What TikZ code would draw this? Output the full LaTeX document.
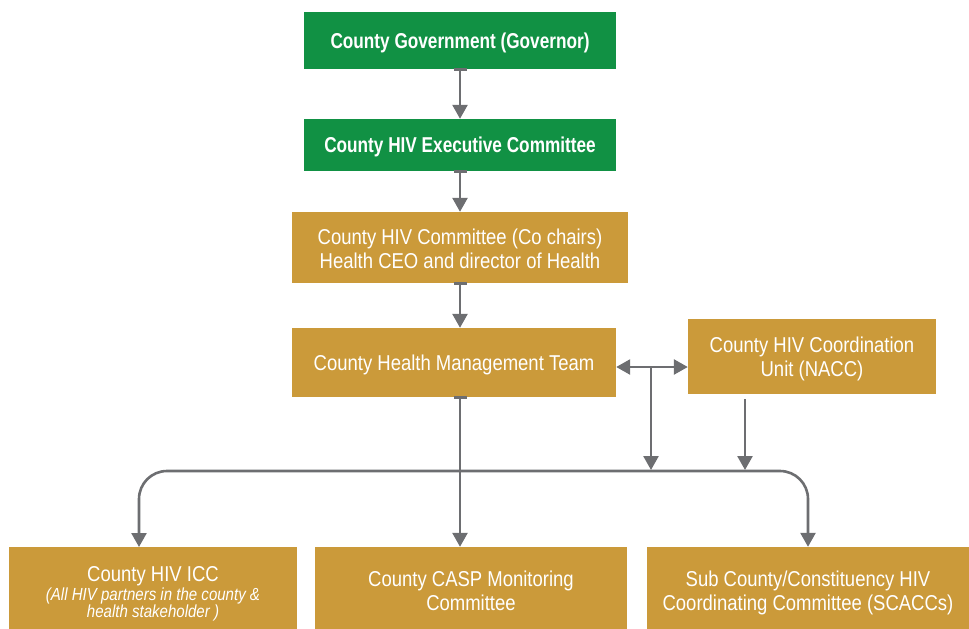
\documentclass[tikz,border=0pt]{standalone}
\usepackage{fontspec}
\setmainfont{Liberation Sans}[FakeStretch=0.86, BoldFeatures={FakeStretch=0.8}]
\usepackage{xcolor}
\usepackage{tikz}
\usetikzlibrary{positioning, arrows.meta, calc}
\definecolor{govgreen}{RGB}{17,145,68}
\definecolor{hivgold}{RGB}{203,154,58}
\definecolor{linegray}{RGB}{109,110,113}
% invisible strut that pushes a box's text down a little
\newcommand{\boxstrut}[1]{\rule{0pt}{#1pt}}

\begin{document}
\begin{tikzpicture}[x=1pt, y=-1pt,
		box/.style={fill=#1, text=white, align=center, inner sep=0pt, font=\fontsize{21.5}{24}\selectfont},
		arr/.style={-{Triangle[length=14pt, width=15pt]}, line width=2.6pt, draw=linegray},
		teearr/.style={{Bar[width=13pt, line width=3pt]}-{Triangle[length=14pt, width=15pt]}, line width=2.6pt, draw=linegray, shorten <=-1.5pt},
		dblarr/.style={{Triangle[length=14pt, width=15pt]}-{Triangle[length=14pt, width=15pt]}, line width=2.6pt, draw=linegray}]
		\useasboundingbox (0,0) rectangle (969,629);
		
		% top of the chain
		\node[box=govgreen, minimum width=312pt, minimum height=57pt, font=\fontsize{21.5}{24}\selectfont\bfseries] (gov) at (460,40.5) {\boxstrut{20}County Government (Governor)};
		\node[box=govgreen, minimum width=312pt, minimum height=52pt, font=\fontsize{21.5}{24}\selectfont\bfseries] (exec) at (460,145) {\boxstrut{20}County HIV Executive Committee};
		\node[box=hivgold, minimum width=336pt, minimum height=71pt] (cochair) at (460,247.5) {\boxstrut{19}County HIV Committee (Co chairs)\\Health CEO and director of Health};
		\node[box=hivgold, minimum width=324pt, minimum height=69pt] (chmt) at (454,362.5) {\boxstrut{20}County Health Management Team};
		\node[box=hivgold, minimum width=248pt, minimum height=75pt] (nacc) at (812,356.5) {\boxstrut{20}County HIV Coordination\\Unit (NACC)};
		
		% bottom row
		\node[box=hivgold, minimum width=288pt, minimum height=82pt] (icc) at (153,588) {\boxstrut{26}County HIV ICC\\[-5pt]
			\fontsize{17.5}{17}\selectfont\itshape (All HIV partners in the county \&\\[-7pt]
			\fontsize{17.5}{17}\selectfont\itshape health stakeholder )};
		\node[box=hivgold, minimum width=312pt, minimum height=82pt] (casp) at (471,588) {\boxstrut{22}County CASP Monitoring\\Committee};
		\node[box=hivgold, minimum width=322pt, minimum height=82pt] (scacc) at (808,588) {\boxstrut{25}Sub County/Constituency HIV\\Coordinating Committee (SCACCs)};
		
		% vertical chain
		\draw[teearr] (gov.south) -- (exec.north);
		\draw[teearr] (exec.south) -- (cochair.north);
		\draw[teearr] (cochair.south) -- (cochair.south |- chmt.north);
		\draw[teearr] (cochair.south |- chmt.south) -- (cochair.south |- casp.north);
		
		% link to the coordination unit
		\coordinate (bus) at (460,471);
		\coordinate (link) at (651,367);
		\coordinate (naccout) at (745,399);
		\coordinate (iccin) at (139,547);
		\draw[dblarr] (chmt.east |- link) -- (nacc.west |- link);
		\draw[arr] (link) -- ($(link |- bus)+(0,-1)$);
		\draw[arr] (naccout) -- ($(naccout |- bus)+(0,-1)$);
		
		% branch line
		\draw[arr, rounded corners=28pt] (bus) -| (iccin);
		\draw[arr, rounded corners=28pt] (bus) -| (scacc.north);
	\end{tikzpicture}
\end{document}
